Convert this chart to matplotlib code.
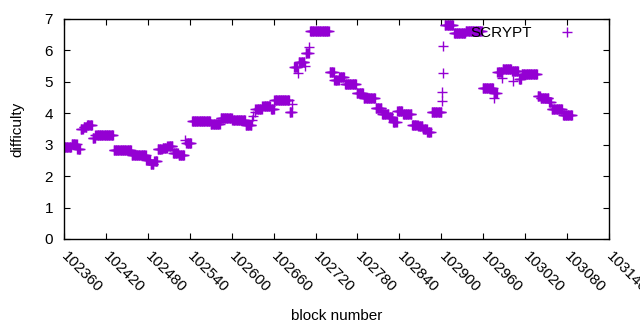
import numpy as np
import matplotlib
matplotlib.use('Agg')
import matplotlib.pyplot as plt
import matplotlib.transforms as mtransforms

plt.rcParams['font.family'] = ['Liberation Sans', 'DejaVu Sans']

# constant-difficulty runs of consecutive blocks: (first block, last block, difficulty)
seg_start = [102361, 102371, 102379, 102384, 102388, 102393, 102401, 102405, 102431, 102457,
             102478, 102484, 102489, 102494, 102501, 102508, 102516, 102524, 102535, 102543,
             102570, 102584, 102601, 102620, 102634, 102644, 102656, 102661, 102683, 102689,
             102696, 102706, 102712, 102740, 102747, 102754, 102762, 102779, 102789, 102806,
             102815, 102825, 102831, 102837, 102845, 102858, 102867, 102874, 102880, 102886,
             102905, 102918, 102935, 102959, 102975, 102980, 102988, 103001, 103011, 103015,
             103038, 103042, 103054, 103058, 103074]
seg_end = [102370, 102378, 102383, 102387, 102392, 102400, 102404, 102430, 102456, 102477,
           102483, 102488, 102493, 102500, 102507, 102515, 102523, 102532, 102542, 102569,
           102583, 102600, 102619, 102628, 102643, 102655, 102660, 102682, 102686, 102694,
           102704, 102710, 102739, 102746, 102753, 102761, 102778, 102788, 102805, 102814,
           102824, 102830, 102836, 102844, 102857, 102866, 102873, 102879, 102885, 102900,
           102917, 102934, 102958, 102974, 102979, 102987, 103000, 103010, 103014, 103037,
           103041, 103053, 103057, 103073, 103087]
seg_diff = [2.92, 3.02, 2.86, 3.50, 3.57, 3.62, 3.20, 3.31, 2.82, 2.66,
            2.50, 2.40, 2.48, 2.85, 2.90, 2.95, 2.75, 2.68, 3.05, 3.75,
            3.65, 3.85, 3.80, 3.63, 4.15, 4.22, 4.15, 4.41, 4.05, 5.48,
            5.63, 5.92, 6.62, 5.30, 5.05, 5.15, 4.93, 4.65, 4.50, 4.17,
            3.97, 3.87, 3.72, 4.08, 3.97, 3.63, 3.58, 3.50, 3.42, 4.05,
            6.80, 6.55, 6.62, 4.80, 4.65, 5.30, 5.40, 5.35, 5.08, 5.25,
            4.55, 4.50, 4.35, 4.15, 3.95]

# isolated blocks off their run
spike_block = [102533, 102629, 102631, 102633, 102687, 102695, 102705, 102711,
               102901, 102901, 102902, 102903, 102975, 102987, 103002]
spike_diff = [3.15, 3.78, 3.92, 4.05, 4.30, 5.28, 5.50, 6.12,
              4.39, 4.68, 5.28, 6.14, 4.48, 5.12, 5.03]

x_ticks = list(range(102360, 103141, 60))
y_ticks = [0, 1, 2, 3, 4, 5, 6, 7]
series_label = 'SCRYPT'
color = '#9400D3'

blocks = np.concatenate([np.arange(s, e + 1) for s, e in zip(seg_start, seg_end)] + [np.array(spike_block)])
diffs = np.concatenate([np.full(e - s + 1, d) for s, e, d in zip(seg_start, seg_end, seg_diff)] + [np.array(spike_diff)])

fig = plt.figure(figsize=(6.4, 3.3), dpi=100)
ax = fig.add_axes([64 / 640, 1 - 239 / 330, 545 / 640, 220 / 330])

ax.plot(blocks, diffs, linestyle='none', marker='+', markersize=6.5, markeredgewidth=1.0,
        color=color, label=series_label)

ax.set_xlim(x_ticks[0], x_ticks[-1])
ax.set_ylim(0, 7)
ax.set_xticks(x_ticks)
ax.set_yticks(y_ticks)
ax.tick_params(direction='in', length=4, width=0.8, top=True, right=True, labelsize=11)
ax.tick_params(axis='x', pad=8)
ax.tick_params(axis='y', pad=8)
shift = mtransforms.ScaledTranslation(5 / 100, 1 / 100, fig.dpi_scale_trans)
for lab in ax.get_xticklabels():
    lab.set_rotation(-45)
    lab.set_ha('left')
    lab.set_va('top')
    lab.set_rotation_mode('anchor')
    lab.set_transform(lab.get_transform() + shift)
for sp in ax.spines.values():
    sp.set_linewidth(1.0)

ax.set_xlabel('block number', fontsize=11)
ax.xaxis.label.set_va('center')
ax.xaxis.set_label_coords(0.5, -0.35)
ax.set_ylabel('difficulty', fontsize=11)
ax.yaxis.label.set_va('center')
ax.yaxis.set_label_coords(-0.086, 0.5)

ax.legend(loc='upper right', bbox_to_anchor=((582 - 64) / 545, (239 - 26) / 220),
          markerfirst=False, frameon=False, fontsize=11, numpoints=1,
          handlelength=2, handletextpad=1.25, borderaxespad=0, borderpad=0)

fig.savefig('out.png', dpi=100)
